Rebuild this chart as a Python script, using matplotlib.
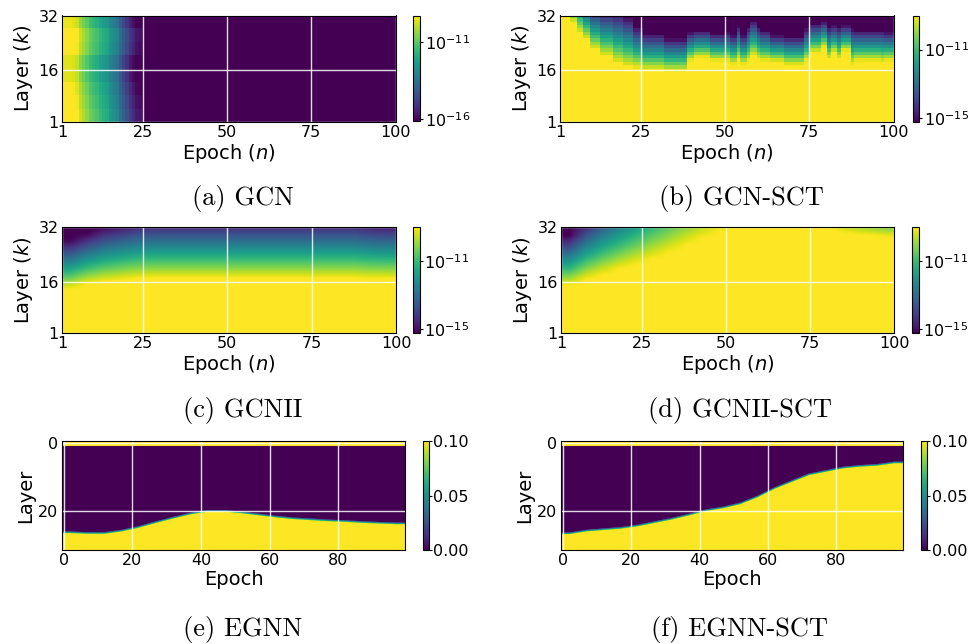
import numpy as np
import matplotlib
matplotlib.use('Agg')
import matplotlib.pyplot as plt
from matplotlib.ticker import FuncFormatter

W, H = 972, 644

# ---------------- data ----------------
# (a) GCN: log10 value per epoch 1..24 (after that the floor), plus a small shift per 4-layer band
gcn_log = [-9.3, -9.3, -9.3, -9.4, -9.6, -10.2, -10.5, -10.8, -11.2, -11.4, -11.6, -11.9,
           -12.1, -12.3, -12.8, -13.0, -13.3, -14.0, -14.4, -14.8, -15.3, -15.6, -16.0, -16.1]
gcn_floor = -16.1
gcn_band_shift = [0.4, 0.2, 0.0, -0.3, -0.3, 0.2, 0.3, -0.2]

# (b) GCN-SCT: segments (start epoch), layer where yellow ends (lo), layer where it is fully dark (hi)
gcnsct_start = [1, 4, 6, 8, 10, 13, 17, 20, 23, 26, 32, 39, 41, 46, 50, 52, 54, 55, 57, 58,
                60, 61, 64, 68, 74, 76, 79, 81, 82, 84, 85, 88, 89, 97, 98]
gcnsct_lo = [40, 30, 27, 25, 22, 20, 18, 17.0, 16.6, 16.0, 15.6, 18.7, 19.7, 18.7, 18.7, 17.7, 19.2, 17.7,
             18.7, 20.2, 19.2, 18.7, 18.4, 17.5, 18.7, 21.2, 22.7, 19.2, 21.2, 19.2, 21.7, 17.5, 18.7, 18.2, 18.7]
gcnsct_hi = [60, 42, 40, 37, 35, 34, 33.5, 32, 29, 27, 25.5, 27.5, 28, 27, 27.5, 26.5, 29.3, 26.5, 29, 31,
             29, 28, 26.5, 26, 28.5, 30, 30.7, 29, 29.5, 29, 29.5, 28.5, 28, 28, 27.5]

# (c) GCNII and (d) GCNII-SCT: lo / hi at 20 evenly spaced epochs (3.5, 8.4, ... 97.5)
gcnii_lo = [13.8, 15.2, 15.9, 16.4, 16.9] + [17.0] * 13 + [16.8, 16.8]
gcnii_hi = [28.5, 30.5, 32.5, 33.5, 34.5] + [34.7] * 13 + [34.0, 33.8]
gcniisct_lo = [14.8, 16.7, 18.2, 19.8, 21.3, 22.9, 24.7, 26.9, 29.1, 31.0,
               34, 34, 34, 34, 34, 33, 31.5, 30.5, 30.0, 29.5]
gcniisct_hi = [30, 34.5, 38.5, 42, 46, 51, 56, 60, 64, 68,
               70, 70, 70, 70, 70, 60, 50, 46, 45, 44]

# (e) EGNN and (f) EGNN-SCT: boundary layer at epochs 2, 7, ..., 97
egnn_b = [26.3, 26.5, 26.5, 25.8, 24.7, 23.3, 22.0, 20.8, 20.0, 20.0,
          20.5, 21.1, 21.7, 22.2, 22.5, 22.8, 23.0, 23.3, 23.5, 23.7]
egnnsct_b = [26.6, 25.8, 25.4, 25.0, 24.3, 23.3, 22.3, 21.1, 19.8, 19.0,
             17.8, 15.8, 13.3, 11.3, 9.3, 8.3, 7.3, 6.8, 6.5, 5.8]

captions = ['(a) GCN', '(b) GCN-SCT', '(c) GCNII', '(d) GCNII-SCT', '(e) EGNN', '(f) EGNN-SCT']

layers = np.arange(1, 33)


def profile(lo, hi, vmin, vmax):
    v = vmax - (layers - lo) / (hi - lo) * (vmax - vmin)
    return np.clip(v, vmin, vmax)


def columns(lo, hi, vmin, vmax):
    return np.column_stack([profile(a, b, vmin, vmax) for a, b in zip(lo, hi)])


def segments(start, lo, hi, vmin, vmax):
    arr = np.empty((32, 100))
    for j, ep in enumerate(range(1, 101)):
        k = np.searchsorted(start, ep, side='right') - 1
        arr[:, j] = profile(lo[k], hi[k], vmin, vmax)
    return arr


def egnn_field(bounds):
    # linear in the layer so that bilinear resampling keeps the edge smooth;
    # row 0 is the bright top strip, row 1 is held dark below it
    rows = np.arange(32)[:, None]
    v = (rows - np.array(bounds)[None, :]) * 0.13 + 0.05
    v[0, :] = 1.0
    v[1, :] = -0.02
    return v


def rect(l, t, r, b):
    return [l / W, 1 - b / H, (r - l) / W, (b - t) / H]


def log_fmt(v, pos):
    return r'$10^{%d}$' % int(round(v))


# ---------------- build arrays ----------------
vmin_a, vmax_a = -16.1, -9.3
vmin_b, vmax_b = -15.25, -9.0

gcn = np.full((32, 100), gcn_floor)
gcn[:, :len(gcn_log)] = np.array(gcn_log)[None, :] + np.repeat(gcn_band_shift, 4)[:, None]
gcn = np.clip(gcn, vmin_a, vmax_a)
gcnsct = segments(gcnsct_start, gcnsct_lo, gcnsct_hi, vmin_b, vmax_b)
gcnii = columns(gcnii_lo, gcnii_hi, vmin_b, vmax_b)
gcniisct = columns(gcniisct_lo, gcniisct_hi, vmin_b, vmax_b)

# ---------------- figure ----------------
fig = plt.figure(figsize=(W / 100, H / 100), dpi=100)

ax_rects = [(62, 15.5, 395.5, 122), (560, 15.5, 893.5, 122),
            (62, 227, 396, 333), (561, 227, 894, 333),
            (62, 441, 405, 550), (561, 441, 903, 550)]
cb_rects = [(413, 15.5, 420, 121), (912.5, 15.5, 919, 122),
            (413, 227, 419.5, 333), (912, 227, 918.5, 333),
            (423, 441, 428.5, 550), (921, 441, 927, 550)]
cap_pos = [(242.5, 199), (741, 199), (243, 410), (740, 410), (243, 629.5), (739, 629.5)]

panels = [(gcn, vmin_a, vmax_a, 'nearest', [-16, -11]),
          (gcnsct, vmin_b, vmax_b, 'nearest', [-15, -11]),
          (gcnii, vmin_b, vmax_b, 'bilinear', [-15, -11]),
          (gcniisct, vmin_b, vmax_b, 'bilinear', [-15, -11])]

for i in range(6):
    ax = fig.add_axes(rect(*ax_rects[i]))
    cax = fig.add_axes(rect(*cb_rects[i]))
    if i < 4:
        data, lo, hi, interp, cticks = panels[i]
        im = ax.imshow(data, cmap='viridis', vmin=lo, vmax=hi, origin='lower',
                       extent=[1, 100, 1, 32], aspect='auto',
                       interpolation=interp, interpolation_stage='data')
        ax.set_xticks([1, 25, 50, 75, 100])
        ax.set_yticks([1, 16, 32])
        ax.set_xlabel('Epoch ($n$)', fontsize=14, labelpad=1)
        ax.set_ylabel('Layer ($k$)', fontsize=14, labelpad=2)
        cb = fig.colorbar(im, cax=cax)
        cb.set_ticks(cticks)
        cb.ax.yaxis.set_major_formatter(FuncFormatter(log_fmt))
    else:
        data = egnn_field(egnn_b if i == 4 else egnnsct_b)
        im = ax.imshow(data, cmap='viridis', vmin=0.0, vmax=0.1, origin='upper',
                       extent=[-0.5, 99.5, 31.5, -0.5], aspect='auto',
                       interpolation='bilinear', interpolation_stage='data')
        ax.set_xticks([0, 20, 40, 60, 80])
        ax.set_yticks([0, 20])
        ax.set_xlabel('Epoch', fontsize=14, labelpad=1)
        ax.set_ylabel('Layer', fontsize=14, labelpad=2)
        cb = fig.colorbar(im, cax=cax)
        cb.set_ticks([0.0, 0.05, 0.10])
        cb.ax.yaxis.set_major_formatter(FuncFormatter(lambda v, p: '%.2f' % v))
    ax.grid(True, color='white', linewidth=1.0, alpha=0.85)
    ax.tick_params(length=0, pad=2.5, labelsize=11.5)
    cb.ax.tick_params(length=2, pad=1.5, labelsize=11.5)
    cb.outline.set_linewidth(0.8)
    fig.text(cap_pos[i][0] / W, 1 - cap_pos[i][1] / H, captions[i],
             fontfamily='cmr10', fontsize=19, ha='center', va='center')

fig.savefig('out.png', dpi=100)
